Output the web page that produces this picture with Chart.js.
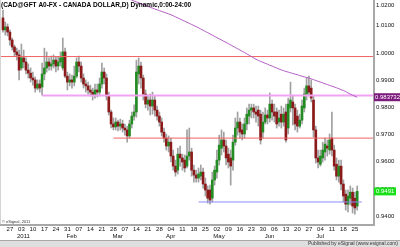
<!DOCTYPE html>
<html><head><meta charset="utf-8">
<script src="https://cdn.jsdelivr.net/npm/chart.js@4/dist/chart.umd.min.js"></script>
<style>html,body{margin:0;padding:0;background:#fff;}canvas{display:block;}</style>
</head><body>
<canvas id="c" width="400" height="247"></canvas>
<script>
// ---- data (CAD@GFT daily, Dec 22 2010 .. Jul 26 2011, weekdays) ----
const firstDay = '2010-12-22';
const openP = [1.0129,1.0085,1.0096,1.0077,1.0048,1.0022,1.0004,0.9993,0.9945,0.9982,
0.9967,0.9937,0.9926,0.9908,0.9901,0.9871,0.9886,0.9875,0.9923,0.9945,
0.9967,0.9952,0.9960,0.9974,0.9952,0.9967,0.9945,1.0004,0.9915,0.9893,
0.9901,0.9893,0.9915,0.9967,0.9952,0.9908,0.9886,0.9879,0.9864,0.9856,
0.9845,0.9864,0.9856,0.9886,0.9930,0.9908,0.9842,0.9783,0.9739,0.9728,
0.9746,0.9731,0.9739,0.9724,0.9717,0.9695,0.9739,0.9768,0.9783,0.9923,
0.9952,0.9908,0.9849,0.9812,0.9827,0.9805,0.9827,0.9790,0.9768,0.9746,
0.9709,0.9687,0.9658,0.9672,0.9621,0.9584,0.9569,0.9628,0.9614,0.9606,
0.9584,0.9621,0.9636,0.9569,0.9551,0.9540,0.9547,0.9562,0.9518,0.9496,
0.9496,0.9466,0.9533,0.9562,0.9606,0.9650,0.9680,0.9658,0.9628,0.9614,
0.9606,0.9672,0.9724,0.9746,0.9717,0.9702,0.9739,0.9768,0.9790,0.9798,
0.9783,0.9790,0.9775,0.9709,0.9746,0.9772,0.9761,0.9812,0.9783,0.9783,
0.9746,0.9775,0.9746,0.9783,0.9724,0.9798,0.9820,0.9798,0.9768,0.9731,
0.9753,0.9798,0.9849,0.9879,0.9871,0.9827,0.9717,0.9614,0.9591,0.9614,
0.9636,0.9658,0.9643,0.9687,0.9643,0.9591,0.9547,0.9584,0.9518,0.9481,
0.9444,0.9466,0.9488,0.9466,0.9437];
const highP = [1.0158,1.0114,1.0107,1.0085,1.0055,1.0029,1.0018,1.0011,1.0033,1.0011,
0.9982,0.9960,0.9945,0.9930,0.9912,0.9901,0.9901,0.9963,1.0018,1.0004,
0.9982,0.9989,0.9993,0.9985,0.9985,1.0004,1.0055,1.0018,0.9930,0.9923,
0.9919,0.9952,0.9982,0.9989,0.9967,0.9923,0.9901,0.9893,0.9882,0.9871,
0.9886,0.9886,0.9908,0.9963,0.9945,0.9923,0.9856,0.9790,0.9761,0.9761,
0.9753,0.9757,0.9753,0.9739,0.9731,0.9753,0.9783,0.9809,0.9974,0.9982,
0.9967,0.9919,0.9864,0.9845,0.9849,0.9856,0.9842,0.9805,0.9783,0.9761,
0.9724,0.9702,0.9695,0.9687,0.9643,0.9606,0.9650,0.9658,0.9628,0.9625,
0.9717,0.9724,0.9650,0.9588,0.9569,0.9577,0.9588,0.9577,0.9540,0.9511,
0.9514,0.9562,0.9584,0.9643,0.9698,0.9717,0.9709,0.9680,0.9650,0.9643,
0.9698,0.9761,0.9783,0.9761,0.9739,0.9761,0.9798,0.9812,0.9812,0.9812,
0.9805,0.9805,0.9790,0.9783,0.9798,0.9790,0.9853,0.9827,0.9812,0.9798,
0.9790,0.9805,0.9798,0.9812,0.9834,0.9893,0.9845,0.9812,0.9790,0.9775,
0.9827,0.9871,0.9908,0.9915,0.9901,0.9842,0.9731,0.9643,0.9643,0.9672,
0.9687,0.9680,0.9702,0.9783,0.9661,0.9614,0.9606,0.9606,0.9533,0.9496,
0.9496,0.9511,0.9503,0.9488,0.9511];
const lowP = [1.0077,1.0066,1.0063,1.0029,1.0011,0.9989,0.9974,0.9901,0.9937,0.9945,
0.9923,0.9908,0.9893,0.9882,0.9856,0.9864,0.9856,0.9845,0.9901,0.9930,
0.9937,0.9937,0.9945,0.9930,0.9937,0.9952,0.9937,0.9908,0.9864,0.9879,
0.9871,0.9879,0.9908,0.9930,0.9893,0.9871,0.9856,0.9849,0.9842,0.9827,
0.9834,0.9838,0.9842,0.9871,0.9886,0.9827,0.9772,0.9724,0.9717,0.9717,
0.9713,0.9717,0.9709,0.9698,0.9672,0.9687,0.9724,0.9753,0.9764,0.9886,
0.9871,0.9827,0.9798,0.9790,0.9772,0.9775,0.9768,0.9753,0.9731,0.9695,
0.9672,0.9643,0.9636,0.9599,0.9569,0.9547,0.9555,0.9584,0.9569,0.9562,
0.9577,0.9606,0.9547,0.9525,0.9525,0.9525,0.9533,0.9503,0.9474,0.9448,
0.9444,0.9452,0.9514,0.9540,0.9588,0.9625,0.9636,0.9588,0.9577,0.9514,
0.9569,0.9661,0.9698,0.9687,0.9680,0.9687,0.9717,0.9739,0.9761,0.9761,
0.9746,0.9731,0.9665,0.9687,0.9739,0.9739,0.9746,0.9753,0.9746,0.9724,
0.9731,0.9724,0.9731,0.9672,0.9702,0.9783,0.9735,0.9717,0.9709,0.9724,
0.9739,0.9783,0.9827,0.9842,0.9820,0.9691,0.9595,0.9577,0.9584,0.9599,
0.9606,0.9621,0.9628,0.9621,0.9569,0.9533,0.9525,0.9496,0.9452,0.9422,
0.9415,0.9441,0.9411,0.9407,0.9422];
const closeP = [1.0085,1.0096,1.0077,1.0048,1.0022,1.0004,0.9993,0.9937,0.9982,0.9967,
0.9937,0.9926,0.9908,0.9901,0.9871,0.9886,0.9871,0.9923,0.9945,0.9967,
0.9952,0.9960,0.9974,0.9952,0.9967,0.9982,1.0004,0.9915,0.9893,0.9901,
0.9893,0.9915,0.9967,0.9952,0.9908,0.9886,0.9879,0.9864,0.9856,0.9845,
0.9864,0.9856,0.9886,0.9930,0.9908,0.9842,0.9783,0.9739,0.9728,0.9746,
0.9731,0.9739,0.9724,0.9717,0.9695,0.9739,0.9768,0.9783,0.9930,0.9952,
0.9908,0.9849,0.9812,0.9827,0.9805,0.9827,0.9790,0.9768,0.9746,0.9709,
0.9687,0.9658,0.9672,0.9621,0.9584,0.9562,0.9628,0.9614,0.9599,0.9577,
0.9621,0.9636,0.9569,0.9551,0.9540,0.9555,0.9562,0.9518,0.9496,0.9466,
0.9459,0.9533,0.9569,0.9606,0.9661,0.9680,0.9658,0.9614,0.9599,0.9584,
0.9672,0.9724,0.9746,0.9709,0.9702,0.9739,0.9775,0.9790,0.9798,0.9783,
0.9775,0.9768,0.9680,0.9746,0.9772,0.9761,0.9812,0.9783,0.9768,0.9739,
0.9761,0.9746,0.9775,0.9680,0.9812,0.9827,0.9798,0.9739,0.9731,0.9753,
0.9805,0.9849,0.9879,0.9856,0.9834,0.9717,0.9614,0.9599,0.9621,0.9643,
0.9665,0.9650,0.9680,0.9643,0.9584,0.9547,0.9584,0.9518,0.9474,0.9444,
0.9474,0.9488,0.9437,0.9430,0.9491];
// moving average (purple curve), starting at bar 54
const maFirstBar = 54;
const maValues = [1.0202,1.0198,1.0195,1.0191,1.0188,1.0185,1.0181,1.0178,1.0175,1.0172,
1.0168,1.0165,1.0162,1.0159,1.0156,1.0153,1.0150,1.0147,1.0144,1.0141,
1.0137,1.0133,1.0129,1.0125,1.0121,1.0117,1.0113,1.0109,1.0105,1.0101,
1.0097,1.0093,1.0088,1.0084,1.0079,1.0075,1.0070,1.0066,1.0061,1.0057,
1.0052,1.0048,1.0043,1.0039,1.0034,1.0030,1.0025,1.0020,1.0016,1.0011,
1.0006,1.0002,0.9997,0.9992,0.9987,0.9982,0.9977,0.9973,0.9969,0.9966,
0.9962,0.9959,0.9955,0.9952,0.9948,0.9945,0.9941,0.9938,0.9935,0.9932,
0.9930,0.9927,0.9925,0.9922,0.9920,0.9917,0.9915,0.9912,0.9910,0.9908,
0.9905,0.9902,0.9899,0.9896,0.9893,0.9890,0.9887,0.9884,0.9881,0.9878,
0.9875,0.9872,0.9869,0.9865,0.9862,0.9858,0.9853,0.9849,0.9845,0.9841,
0.98373];
// drawn horizontal levels: price, first bar, last bar
const levelPrices = [0.9987, 0.9844, 0.9687, 0.9452];
const levelFrom   = [-5, 17, 48, 85];
const levelTo     = [170, 170, 170, 156];
const levelColors = ['#f26464', '#f2a2f2', '#f26464', '#8c8cff'];
const yTickValues = [0.94,0.95,0.96,0.97,0.98,0.99,1.00,1.01,1.02];
const monthNames = ['2011','Feb','Mar','Apr','May','Jun','Jul','Aug','Sep','Oct','Nov','Dec'];
const titleText = '(CAD@GFT A0-FX - CANADA DOLLAR,D) Dynamic,0:00-24:00';
const maLabel = '0.983732';

// ---- build dates (weekdays) ----
const dates = [];
{ const d = new Date(firstDay + 'T00:00:00Z');
  while (dates.length < closeP.length) {
    const wd = d.getUTCDay();
    if (wd > 0 && wd < 6) dates.push(new Date(d));
    d.setUTCDate(d.getUTCDate() + 1);
  } }
const tickLabels = new Map();
dates.forEach((d, i) => {
  if (d.getUTCDay() === 1) tickLabels.set(i, [String(d.getUTCDate()).padStart(2, '0')]);
  if (i > 0 && d.getUTCMonth() !== dates[i - 1].getUTCMonth()) tickLabels.set(i + 0.9, ['', monthNames[d.getUTCMonth()]]);
});
const tickPositions = [...tickLabels.keys()].sort((a, b) => a - b);

const idx = closeP.map((_, i) => i);
const wickData = idx.map(i => ({x: i, y: [lowP[i], highP[i]]}));
const bodyData = idx.map(i => ({x: i, y: [openP[i], closeP[i]]}));
const bodyColors = idx.map(i => closeP[i] >= openP[i] ? '#228b22' : '#8b1a1a');
const maData = maValues.map((v, k) => ({x: maFirstBar + k, y: v}));

const FONT = "'Liberation Sans', Arial, sans-serif";
const datasets = [
  {type: 'bar', data: wickData, backgroundColor: '#a0a0a0', barThickness: 1, grouped: false, order: 4},
  {type: 'bar', data: bodyData, backgroundColor: bodyColors, barThickness: 2, minBarLength: 1, grouped: false, order: 3},
];
levelPrices.forEach((p, k) => datasets.push({
  type: 'line', data: [{x: levelFrom[k], y: p}, {x: levelTo[k], y: p}],
  borderColor: levelColors[k], borderWidth: k === 1 ? 2 : 1, pointRadius: 0, order: 2
}));
datasets.push({type: 'line', data: maData, borderColor: '#b35cc4', borderWidth: 1, pointRadius: 0, tension: 0, order: 1});

const deco = {
  id: 'deco',
  afterDraw(chart) {
    const {ctx, chartArea: a, scales: {y}} = chart;
    const W = chart.width, H = chart.height;
    ctx.save();
    // frame
    ctx.fillStyle = '#d4d4d4';
    ctx.fillRect(0, 0, 1, a.bottom);
    ctx.fillStyle = '#a8a8a8';
    ctx.fillRect(a.right, 0, 2, a.bottom + 2);
    ctx.fillRect(0, a.bottom, a.right + 2, 2);
    // bottom band
    ctx.fillStyle = '#dedede';
    ctx.fillRect(0, 240, W, H - 240);
    ctx.fillStyle = '#a8a8a8';
    ctx.fillRect(0, 240, W, 1);
    ctx.fillStyle = '#333';
    ctx.font = '5px ' + FONT;
    ctx.textAlign = 'right'; ctx.textBaseline = 'middle';
    ctx.fillText('Published by eSignal (www.esignal.com)', 398, 244);
    // y labels
    ctx.font = '6px ' + FONT;
    ctx.textAlign = 'left'; ctx.fillStyle = '#111';
    yTickValues.forEach(v => {
      let py = y.getPixelForValue(v);
      if (py > a.bottom) return;
      if (py < 5) py = 5;
      ctx.fillText(v.toFixed(4), a.right + 3, py);
    });
    // MA value box
    const lastMa = maValues[maValues.length - 1];
    let py = y.getPixelForValue(lastMa);
    ctx.fillStyle = '#7d1a7d';
    ctx.fillRect(a.right + 1, py - 4, W - a.right - 1, 8);
    ctx.fillStyle = '#fff';
    ctx.fillText(maLabel, a.right + 2, py);
    // last close box
    const lastC = closeP[closeP.length - 1];
    py = y.getPixelForValue(lastC);
    ctx.fillStyle = '#18e018';
    ctx.fillRect(a.right + 1, py - 4, 22, 8);
    ctx.fillStyle = '#fff';
    ctx.fillText(lastC.toFixed(4), a.right + 3, py);
    // title
    ctx.fillStyle = '#000';
    ctx.font = 'bold 6.5px ' + FONT;
    ctx.fillText(titleText, 1, 5);
    // copyright
    ctx.font = '4px ' + FONT;
    ctx.fillStyle = '#333';
    ctx.fillText('\u00a9 eSignal, 2011', 2, a.bottom - 2);
    ctx.restore();
  }
};

new Chart(document.getElementById('c'), {
  type: 'bar',
  data: {datasets},
  options: {
    responsive: false, animation: false, devicePixelRatio: 1,
    layout: {padding: 0},
    plugins: {legend: {display: false}, tooltip: {enabled: false}},
    scales: {
      x: {
        type: 'linear', min: -1.3, max: 160.87, offset: false,
        grid: {display: false, drawTicks: false}, border: {display: false},
        afterBuildTicks: s => { s.ticks = tickPositions.map(v => ({value: v})); },
        afterFit: s => { s.height = 23; s.paddingLeft = 0; s.paddingRight = 0; },
        ticks: {
          autoSkip: false, maxRotation: 0, minRotation: 0, padding: 2,
          color: '#111', font: {family: FONT, size: 6}, lineHeight: 1.25,
          callback: v => tickLabels.get(v) || ''
        }
      },
      y: {
        type: 'linear', position: 'right', min: 0.9371, max: 1.0195,
        grid: {display: false, drawTicks: false}, border: {display: false},
        ticks: {display: false},
        afterFit: s => { s.width = 27; s.paddingTop = 0; s.paddingBottom = 0; }
      }
    }
  },
  plugins: [deco]
});
</script>
</body></html>
